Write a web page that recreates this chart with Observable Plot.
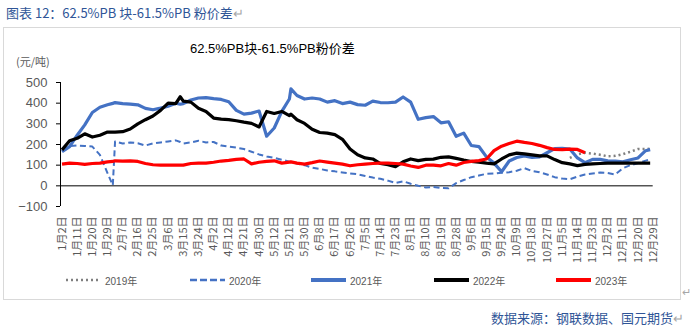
<!DOCTYPE html>
<html><head><meta charset="utf-8">
<script src="https://cdn.jsdelivr.net/npm/d3@7"></script>
<script src="https://cdn.jsdelivr.net/npm/@observablehq/plot@0.6"></script>
<style>
body{margin:0;width:690px;height:329px;background:#fff;position:relative;overflow:hidden;font-family:"Liberation Sans","Noto Sans CJK SC",sans-serif;}
#hdr{position:absolute;left:6px;top:3px;font-size:13px;color:#2F5597;font-family:"Noto Sans CJK SC",sans-serif;white-space:nowrap;}
#hdr span,#src span{color:#a6a6a6;}
#frame{position:absolute;left:3px;top:27px;width:678px;height:273px;border:1px solid #d9d9d9;box-sizing:border-box;}
#title{position:absolute;left:190px;top:38px;font-size:13px;color:#000;white-space:nowrap;font-family:"Liberation Sans","Noto Sans CJK SC",sans-serif;}
#unit{position:absolute;left:16px;top:53px;font-size:11px;color:#595959;white-space:nowrap;font-family:"Noto Sans CJK SC",sans-serif;}
#chart{position:absolute;left:0;top:70px;}
#legend{position:absolute;left:0;top:272px;width:690px;height:16px;}
.li{position:absolute;top:0;height:16px;display:flex;align-items:center;font-size:10px;color:#595959;white-space:nowrap;}
.li svg{margin-right:4px;}
#src{position:absolute;right:6px;top:308px;font-size:13px;color:#2F5597;font-family:"Noto Sans CJK SC",sans-serif;white-space:nowrap;}
#ret{position:absolute;left:682px;top:286px;font-size:11px;color:#a6a6a6;}
</style></head><body>
<div id="hdr">图表 12：62.5%PB 块-61.5%PB 粉价差<span>↵</span></div>
<div id="frame"></div>
<div id="ret">↵</div>
<div id="title">62.5%PB块-61.5%PB粉价差</div>
<div id="unit">(元/吨)</div>
<div id="chart"></div>
<div id="legend"></div>
<div id="src">数据来源：钢联数据、国元期货<span>↵</span></div>
<script>
const tickLabels = ["1月2日","1月11日","1月20日","1月29日","2月7日","2月16日","2月25日","3月6日","3月15日","3月24日","4月2日","4月12日","4月21日","4月30日","5月12日","5月21日","5月30日","6月8日","6月17日","6月26日","7月5日","7月14日","7月23日","8月1日","8月10日","8月19日","8月28日","9月6日","9月15日","9月24日","10月9日","10月18日","10月27日","11月5日","11月14日","11月23日","12月2日","12月11日","12月20日","12月29日"];
const seriesNames = ["2019年","2020年","2021年","2022年","2023年"];
const pos = [0,0.5,1,1.5,2,2.5,3,3.35,3.5,4,4.5,5,5.5,6,6.5,7,7.5,7.8,8,8.5,9,9.5,10,10.5,11,11.5,12,12.5,13,13.5,14,14.5,15,15.1,15.5,16,16.5,17,17.5,18,18.5,19,19.5,20,20.5,21,21.5,22,22.5,23,23.5,24,24.5,25,25.5,26,26.5,27,27.5,28,28.5,29,29.5,30,30.5,31,31.5,32,32.5,33,33.5,34,34.5,35,35.5,36,36.5,37,37.5,38,38.5,38.8];
const v2019 = [null,null,null,null,null,null,null,null,null,null,null,null,null,null,null,null,null,null,null,null,null,null,null,null,null,null,null,null,null,null,null,null,null,null,null,null,null,null,null,null,null,null,null,null,null,null,null,null,null,null,null,null,null,null,null,null,null,null,null,null,null,null,null,null,null,null,null,null,null,null,135,152,160,156,150,143,145,153,165,178,178,180];
const v2020 = [172,192,195,193,190,150,62,3,215,205,210,206,195,205,210,215,220,212,205,210,218,210,212,195,190,185,178,165,152,142,135,126,117,116,108,100,88,82,74,70,65,60,56,48,40,34,25,14,22,10,0,-8,-5,-10,-12,13,28,42,50,58,60,63,66,73,86,72,66,55,42,35,32,45,55,60,64,62,55,85,100,110,122,128];
const v2021 = [165,190,245,295,355,380,392,399,403,398,395,392,375,368,376,385,400,395,398,415,425,427,422,418,407,365,347,352,362,240,280,360,420,469,437,420,425,420,405,412,398,405,393,390,410,403,402,405,430,405,322,330,335,305,310,240,255,195,190,140,110,68,120,137,145,138,140,160,180,181,178,135,112,128,128,121,120,116,126,135,170,175];
const v2022 = [174,218,230,252,236,245,260,260,260,262,275,300,320,338,365,400,398,431,410,405,375,360,328,323,320,315,308,302,285,360,350,360,340,347,320,302,274,258,255,248,225,178,150,135,130,108,102,93,116,130,122,128,129,138,140,133,125,118,115,110,106,130,150,158,155,150,145,145,127,112,106,98,104,106,108,110,110,110,110,110,110,110];
const v2023 = [105,110,108,104,108,110,116,118,121,120,121,118,108,102,100,100,100,100,100,108,110,110,114,120,123,128,130,106,114,118,121,110,115,116,110,105,112,120,115,110,105,97,102,105,108,110,110,108,105,96,89,100,100,97,108,100,113,118,122,130,170,192,205,216,210,205,196,185,176,175,178,176,160,null,null,null,null,null,null,null,null,null];
const yTicks = [-100,0,100,200,300,400,500];

const table = pos.map((p,i)=>({p, v2019:v2019[i], v2020:v2020[i], v2021:v2021[i], v2022:v2022[i], v2023:v2023[i]}));
const styles = [
  {key:"v2019", stroke:"#7f7f7f", w:2.5, dash:"2,3"},
  {key:"v2020", stroke:"#4472C4", w:2, dash:"6,3.5"},
  {key:"v2021", stroke:"#4472C4", w:3.2, dash:null},
  {key:"v2022", stroke:"#000000", w:3.2, dash:null},
  {key:"v2023", stroke:"#FF0000", w:3.2, dash:null}
];
const chart = Plot.plot({
  width:690, height:200, marginLeft:60, marginRight:37.3, marginTop:12, marginBottom:64,
  x:{domain:[-0.1,39]},
  y:{domain:[-100,500]},
  style:{fontFamily:'"Liberation Sans","Noto Sans CJK SC",sans-serif', color:"#595959", background:"transparent", overflow:"visible"},
  marks:[
    Plot.ruleX([-0.1], {stroke:"#000", strokeWidth:1}),
    Plot.axisY({ticks:yTicks, tickSize:4, tickPadding:9, fontSize:13, label:null, stroke:"#000"}),
    Plot.axisX({ticks:d3.range(0,40), tickFormat:i=>tickLabels[i], tickRotate:-90, tickSize:0, tickPadding:10, fontSize:11, label:null, fontFamily:'"Noto Sans CJK SC",sans-serif'}),
    Plot.ruleY([0], {stroke:"#000", strokeWidth:1}),
    ...styles.map(s=>Plot.line(table, {x:"p", y:s.key, stroke:s.stroke, strokeWidth:s.w, strokeDasharray:s.dash, strokeLinejoin:"round", strokeLinecap:s.key==="v2019"?"butt":"butt"}))
  ]
});
document.getElementById("chart").appendChild(chart);

const lg = document.getElementById("legend");
const lx = [66,190,311,434,556];
styles.forEach((s,i)=>{
  const d = document.createElement("div");
  d.className="li"; d.style.left=lx[i]+"px";
  d.innerHTML = `<svg width="35" height="8"><line x1="0" x2="35" y1="4" y2="4" stroke="${s.stroke}" stroke-width="${s.key==='v2020'?2.5:(s.key==='v2019'?2.5:4)}" ${s.dash?`stroke-dasharray="${s.key==='v2020'?'7,3':'2,3'}"`:''}/></svg>${seriesNames[i]}`;
  lg.appendChild(d);
});
</script>
</body></html>
